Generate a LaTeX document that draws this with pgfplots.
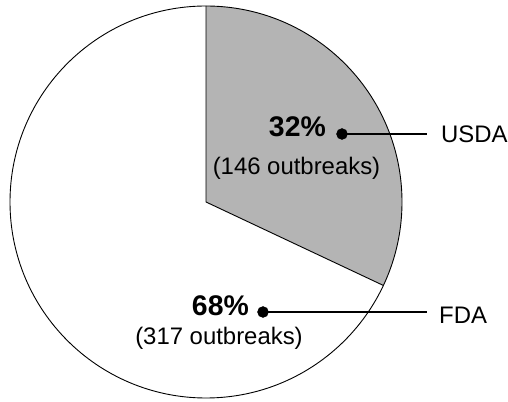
\documentclass[border=0pt]{standalone}
\usepackage{pgfplots}
\usepackage{pgfplotstable}
\pgfplotsset{compat=1.18}
\usepackage{fontspec}
\setmainfont{Liberation Sans}
\definecolor{usdagray}{RGB}{180,180,180}
\pgfplotstableread{
agency outbreaks pct
USDA 146 32
FDA 317 68
}\shares
\begin{document}
\begin{tikzpicture}
\pgfplotstablegetelem{0}{pct}\of\shares
\pgfmathsetmacro\usdaend{90-3.6*\pgfplotsretval}
\begin{axis}[
  width=508bp, height=402bp, scale only axis,
  xmin=0, xmax=508, ymin=0, ymax=402,
  hide axis, clip=false,
]
\path (axis cs:0,0) rectangle (axis cs:508,402);
% pie
\fill[white] (axis cs:206,200) circle[radius=196bp];
\fill[usdagray] (axis cs:206,200) -- (axis cs:206,396) arc[start angle=90, end angle=\usdaend, radius=196bp] -- cycle;
\draw[line width=0.9bp] (axis cs:206,396) -- (axis cs:206,200) -- ++(\usdaend:196bp);
\draw[line width=0.9bp] (axis cs:206,200) circle[radius=196bp];
% leader lines
\addplot[black, line width=1.1bp] coordinates {(342,268) (427,268)};
\addplot[black, line width=1.1bp] coordinates {(263,90) (427,90)};
\addplot[only marks, mark=*, mark size=5.5bp, black] coordinates {(342,268) (263,90)};
% labels
\node[anchor=base east, inner sep=0pt, font=\fontsize{28.5}{32}\selectfont\bfseries] at (axis cs:326,265) {32\%};
\node[anchor=base, inner sep=0pt, font=\fontsize{24}{28}\selectfont] at (axis cs:296.5,227) {(146 outbreaks)};
\node[anchor=base east, inner sep=0pt, font=\fontsize{28.5}{32}\selectfont\bfseries] at (axis cs:249,86) {68\%};
\node[anchor=base, inner sep=0pt, font=\fontsize{24}{28}\selectfont] at (axis cs:219,57) {(317 outbreaks)};
\node[anchor=west, inner sep=0pt, font=\fontsize{24}{28}\selectfont] at (axis cs:441,268) {USDA};
\node[anchor=west, inner sep=0pt, font=\fontsize{24}{28}\selectfont] at (axis cs:439,87) {FDA};
\end{axis}
\end{tikzpicture}
\end{document}
